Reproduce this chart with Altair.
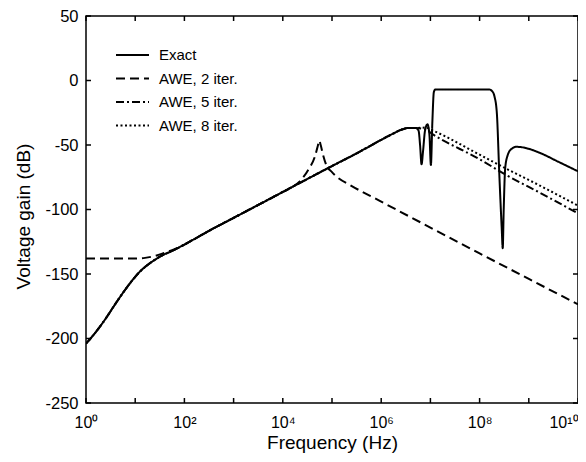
import json
import altair as alt
import pandas as pd

# ---- data (log10 frequency, dB) ----
exact_logf = [0, 0.2, 0.41, 0.6, 0.8, 0.95, 1.1, 1.25, 1.4, 1.55, 1.7, 2.0, 2.5, 3.0, 3.5, 4.0,
              4.5, 5.0, 5.5, 6.0, 6.2, 6.4, 6.55, 6.7, 6.76, 6.79, 6.82, 6.85, 6.89, 6.94, 6.98,
              7.01, 7.04, 7.07, 7.1, 7.5, 8.0, 8.2, 8.26, 8.3, 8.35, 8.4, 8.45, 8.47, 8.49,
              8.52, 8.57, 8.65, 8.75, 8.9, 9.23, 9.6, 10.0]
exact_db = [-204, -195, -184, -173, -162, -154.5, -148, -143, -139, -135.5, -133, -127.2,
            -116.5, -106.5, -96.5, -86.4, -76.3, -66.3, -56.5, -46, -42, -38.3, -36.8, -36.8,
            -39, -50, -65, -55, -39, -34, -42, -65.5, -32, -9, -7, -7, -7, -7, -8.5, -12, -25,
            -72, -115, -130, -100, -68, -58, -53, -51.4, -52, -56.2, -63, -70.4]

awe2_logf = [0, 0.5, 1.0, 1.2, 1.4, 1.6, 1.75, 2.0, 2.5, 3.0, 3.5, 4.0, 4.2, 4.35, 4.52, 4.65,
             4.71, 4.74, 4.77, 4.82, 4.88, 5.0, 5.1, 5.37, 5.98, 7.0, 8.0, 9.02, 10.0]
awe2_db = [-138, -138, -138, -137.5, -136, -133.5, -131.5, -127.2, -116.5, -106.5, -96.5,
           -86.4, -82.4, -78, -69, -59.2, -51, -46.5, -50, -58, -65.2, -71, -74.7, -81.1,
           -93.5, -114, -134, -154.2, -173.5]

# AWE 5 / AWE 8 coincide with the exact curve up to ~10^6.7 Hz, then diverge
split_logf = 6.7
awe5_tail_logf = [6.9, 7.06, 8.0, 8.55, 9.2, 10.0]
awe5_tail_db = [-38, -42, -61, -73.5, -86.5, -103]
awe8_tail_logf = [6.9, 7.06, 8.0, 8.55, 9.2, 10.0]
awe8_tail_db = [-36.5, -39, -57.5, -68.5, -81, -97]

series_names = ["Exact", "AWE, 2 iter.", "AWE, 5 iter.", "AWE, 8 iter."]
dash_patterns = [[1, 0], [9, 5], [8, 3, 2, 3], [2, 2.5]]

x_tick_decades = list(range(0, 11))
x_label_values = [1, 1e2, 1e4, 1e6, 1e8, 1e10]
x_tick_labels = ["10⁰", "10²", "10⁴", "10⁶", "10⁸", "10¹⁰"]
y_ticks = [-250, -200, -150, -100, -50, 0, 50]

# ---- build table ----
rows = []
def add(name, lf, db):
    for a, b in zip(lf, db):
        rows.append({"series": name, "hz": 10 ** a, "db": b})

head = [(a, b) for a, b in zip(exact_logf, exact_db) if a <= split_logf]
add("AWE, 8 iter.", [h[0] for h in head] + awe8_tail_logf, [h[1] for h in head] + awe8_tail_db)
add("AWE, 5 iter.", [h[0] for h in head] + awe5_tail_logf, [h[1] for h in head] + awe5_tail_db)
add("AWE, 2 iter.", awe2_logf, awe2_db)
add("Exact", exact_logf, exact_db)
df = pd.DataFrame(rows)

xt = pd.DataFrame({"hz": [10 ** d for d in x_tick_decades]})
yt = pd.DataFrame({"db": y_ticks})

W, H = 492, 387
TICK = 5
FONT = "Liberation Sans"

xscale = alt.Scale(type="log", domain=[1, 1e10], nice=False)
yscale = alt.Scale(domain=[-250, 50], nice=False)

label_expr = json.dumps(x_tick_labels, ensure_ascii=False) + "[round(log(datum.value)/LN10/2)]"

xaxis = alt.Axis(values=x_label_values, labelExpr=label_expr, title="Frequency (Hz)",
                 ticks=False, tickSize=0, domain=False, grid=False, labelFlush=False,
                 labelOverlap=False, labelBound=False,
                 labelAlign={"condition": {"test": "datum.value > 1e9", "value": "right"},
                             "value": "center"},
                 labelPadding=11, titlePadding=3, labelFontSize=16, titleFontSize=19)
yaxis = alt.Axis(values=y_ticks, labelExpr="toString(datum.value)", title="Voltage gain (dB)",
                 ticks=False, tickSize=0, domain=False, grid=False, labelPadding=8,
                 titleX=-53, titleY=200, titleFontSize=19, labelFontSize=16.5)

X = alt.X("hz:Q", scale=xscale, axis=xaxis)
Y = alt.Y("db:Q", scale=yscale, axis=yaxis)

lines = alt.Chart(df).mark_line(strokeWidth=2, color="black", clip=True,
                                interpolate="monotone").encode(
    x=X, y=Y,
    strokeDash=alt.StrokeDash(
        "series:N",
        scale=alt.Scale(domain=series_names, range=dash_patterns),
        legend=alt.Legend(title=None, orient="none", legendX=29, legendY=31,
                          symbolType="stroke", symbolSize=1089, symbolStrokeWidth=2,
                          symbolStrokeColor="black", clipHeight=16, rowPadding=7.5,
                          labelFontSize=15, labelOffset=9, padding=0, labelFont=FONT,
                          labelColor="black"),
    ),
    detail="series:N",
)

rule = dict(color="black", strokeWidth=1.5)
xt_bottom = alt.Chart(xt).mark_rule(**rule).encode(x=X, y=alt.value(H), y2=alt.value(H - TICK))
xt_top = alt.Chart(xt).mark_rule(**rule).encode(x=X, y=alt.value(0), y2=alt.value(TICK))
yt_left = alt.Chart(yt).mark_rule(**rule).encode(y=Y, x=alt.value(0), x2=alt.value(TICK))
yt_right = alt.Chart(yt).mark_rule(**rule).encode(y=Y, x=alt.value(W), x2=alt.value(W - TICK))

chart = alt.layer(lines, xt_bottom, xt_top, yt_left, yt_right).properties(
    width=W, height=H,
    autosize=alt.AutoSizeParams(type="none"),
    padding={"left": 78, "top": 8, "right": 0, "bottom": 51},
    background="white",
).configure_view(
    stroke="black", strokeWidth=1.5
).configure_axis(
    labelFont=FONT, titleFont=FONT, labelColor="black", titleColor="black",
    titleFontWeight="normal"
).configure_legend(
    labelFont=FONT
)

chart.save("out.html", embed_options={"renderer": "svg", "actions": False})
